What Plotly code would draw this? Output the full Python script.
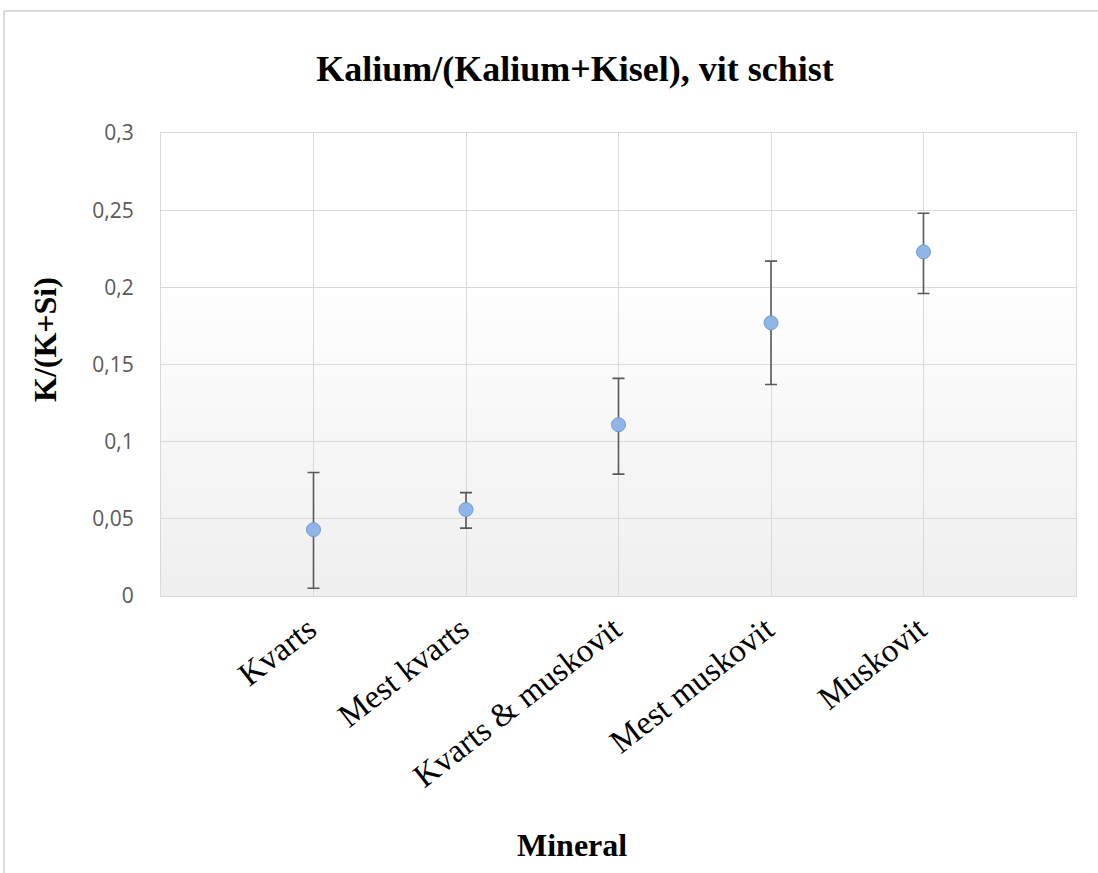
import base64
import plotly.graph_objects as go

categories = ["Kvarts", "Mest kvarts", "Kvarts & muskovit", "Mest muskovit", "Muskovit"]
mean_values = [0.043, 0.056, 0.111, 0.177, 0.223]
upper_values = [0.080, 0.067, 0.141, 0.217, 0.248]
lower_values = [0.005, 0.044, 0.079, 0.137, 0.196]
y_tick_vals = [0, 0.05, 0.1, 0.15, 0.2, 0.25, 0.3]
y_tick_text = ["0", "0,05", "0,1", "0,15", "0,2", "0,25", "0,3"]

err_plus = [u - m for u, m in zip(upper_values, mean_values)]
err_minus = [m - l for m, l in zip(mean_values, lower_values)]

W, H = 1098, 873
L, R, T, B = 161, 1076, 133, 596

svg = ("<svg xmlns='http://www.w3.org/2000/svg' width='100' height='100' viewBox='0 0 100 100' "
       "preserveAspectRatio='none'><defs><linearGradient id='g' x1='0' y1='0' x2='0' y2='1'>"
       "<stop offset='0' stop-color='#ffffff'/><stop offset='0.3' stop-color='#ffffff'/>"
       "<stop offset='1' stop-color='#efefef'/></linearGradient></defs>"
       "<rect width='100' height='100' fill='url(#g)'/></svg>")
svg_uri = "data:image/svg+xml;base64," + base64.b64encode(svg.encode()).decode()

fig = go.Figure()
fig.add_trace(go.Scatter(
    x=categories, y=mean_values, mode="markers",
    marker=dict(size=14, color="#8fb6e6", line=dict(color="#6c9bd6", width=1)),
    error_y=dict(type="data", symmetric=False, array=err_plus, arrayminus=err_minus,
                 color="#595959", thickness=1.6, width=6),
    showlegend=False,
))

def px_x(px):
    return (px - L) / (R - L)

def px_y(py):
    return (B - py) / (B - T)

fig.update_layout(
    width=W, height=H,
    margin=dict(l=L, r=W - R, t=T, b=H - B),
    paper_bgcolor="white", plot_bgcolor="white",
    title=dict(text="<b>Kalium/(Kalium+Kisel), vit schist</b>",
               font=dict(family="Liberation Serif", size=36, color="#000000"),
               x=575 / W, xanchor="center", xref="container",
               y=1 - 68 / H, yanchor="middle", yref="container"),
    xaxis=dict(range=[-1, 5], showgrid=True, gridcolor="#d9d9d9", gridwidth=1,
               showline=True, linecolor="#d9d9d9", linewidth=1, mirror=True,
               ticks="", tickangle=-38, zeroline=False, ticklabelshift=-5,
               tickfont=dict(family="Liberation Serif", size=33, color="#000000")),
    yaxis=dict(range=[0, 0.3], tickvals=y_tick_vals, ticktext=y_tick_text,
               showgrid=True, gridcolor="#d9d9d9", gridwidth=1,
               showline=True, linecolor="#d9d9d9", linewidth=1, mirror=True,
               ticks="", zeroline=False, ticklabelstandoff=22,
               tickfont=dict(family="Open Sans", size=21, color="#595959")),
    images=[dict(source=svg_uri, xref="paper", yref="paper", x=0, y=1, sizex=1, sizey=1,
                 xanchor="left", yanchor="top", sizing="stretch", layer="below")],
    annotations=[
        dict(text="<b>K/(K+Si)</b>", xref="paper", yref="paper", x=px_x(45), y=px_y(340),
             textangle=-90, showarrow=False, xanchor="center", yanchor="middle",
             font=dict(family="Liberation Serif", size=32, color="#000000")),
        dict(text="<b>Mineral</b>", xref="paper", yref="paper", x=px_x(572), y=px_y(845),
             showarrow=False, xanchor="center", yanchor="middle",
             font=dict(family="Liberation Serif", size=32, color="#000000")),
    ],
    shapes=[
        dict(type="line", xref="paper", yref="paper", x0=px_x(4), x1=px_x(W + 5),
             y0=px_y(11), y1=px_y(11), line=dict(color="#d0d0d0", width=1.5)),
        dict(type="line", xref="paper", yref="paper", x0=px_x(4), x1=px_x(4),
             y0=px_y(11), y1=px_y(H + 5), line=dict(color="#d0d0d0", width=1.5)),
    ],
)

fig.write_html("out.html")
